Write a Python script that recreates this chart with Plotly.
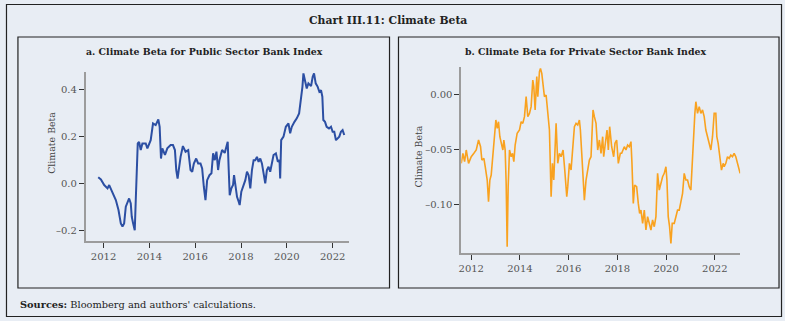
import plotly.graph_objects as go

W, H = 785, 321

# ---- Data (decimal years, climate beta) ----
pub_year = [2011.768, 2011.884, 2012.029, 2012.174, 2012.246, 2012.391, 2012.536, 2012.652, 2012.754, 2012.826,
            2012.899, 2012.971, 2013.043, 2013.116, 2013.188, 2013.232, 2013.290, 2013.362, 2013.406, 2013.449,
            2013.493, 2013.551, 2013.623, 2013.696, 2013.841, 2013.913, 2014.058, 2014.159, 2014.275, 2014.391,
            2014.449, 2014.507, 2014.565, 2014.681, 2014.783, 2014.928, 2015.029, 2015.116, 2015.174, 2015.232,
            2015.290, 2015.362, 2015.464, 2015.580, 2015.696, 2015.797, 2015.870, 2015.942, 2016.043, 2016.130,
            2016.232, 2016.304, 2016.377, 2016.449, 2016.522, 2016.623, 2016.710, 2016.783, 2016.855, 2016.928,
            2017.000, 2017.058, 2017.174, 2017.290, 2017.362, 2017.420, 2017.464, 2017.507, 2017.580, 2017.652,
            2017.696, 2017.754, 2017.826, 2017.899, 2017.942, 2018.014, 2018.087, 2018.188, 2018.261, 2018.333,
            2018.406, 2018.478, 2018.551, 2018.623, 2018.696, 2018.768, 2018.841, 2018.913, 2018.986, 2019.058,
            2019.130, 2019.203, 2019.275, 2019.348, 2019.420, 2019.522, 2019.609, 2019.681, 2019.710, 2019.754,
            2019.855, 2019.957, 2020.072, 2020.145, 2020.217, 2020.333, 2020.435, 2020.536, 2020.609, 2020.681,
            2020.725, 2020.797, 2020.870, 2020.942, 2021.058, 2021.130, 2021.188, 2021.261, 2021.348, 2021.420,
            2021.493, 2021.551, 2021.594, 2021.667, 2021.739, 2021.841, 2021.928, 2022.000, 2022.072, 2022.145,
            2022.217, 2022.290, 2022.362, 2022.435, 2022.507]
pub_beta = [0.026, 0.017, -0.007, -0.021, -0.007, -0.043, -0.071, -0.113, -0.170, -0.184,
            -0.170, -0.099, -0.078, -0.064, -0.085, -0.142, -0.170, -0.199, -0.071, 0.021,
            0.170, 0.177, 0.142, 0.170, 0.170, 0.149, 0.184, 0.255, 0.248, 0.272,
            0.241, 0.106, 0.149, 0.121, 0.149, 0.163, 0.163, 0.142, 0.057, 0.021,
            0.071, 0.113, 0.159, 0.135, 0.142, 0.057, 0.050, 0.085, 0.106, 0.085,
            0.085, 0.064, -0.014, -0.071, 0.014, 0.035, 0.043, 0.128, 0.099, 0.135,
            0.057, 0.099, 0.142, 0.130, 0.156, 0.177, 0.057, -0.050, -0.021, -0.007,
            0.035, -0.007, -0.057, -0.078, -0.092, -0.035, -0.014, 0.014, 0.050, 0.035,
            -0.021, 0.057, 0.099, 0.099, 0.113, 0.092, 0.106, 0.085, 0.043, 0.000,
            0.057, 0.071, 0.050, 0.085, 0.121, 0.128, 0.092, 0.099, 0.021, 0.184,
            0.199, 0.241, 0.255, 0.213, 0.241, 0.262, 0.277, 0.298, 0.348, 0.411,
            0.468, 0.440, 0.404, 0.426, 0.414, 0.454, 0.468, 0.426, 0.411, 0.390,
            0.397, 0.369, 0.270, 0.262, 0.241, 0.234, 0.241, 0.220, 0.220, 0.184,
            0.191, 0.199, 0.220, 0.227, 0.206]

pvt_year = [2011.590, 2011.658, 2011.727, 2011.795, 2011.891, 2012.000, 2012.109, 2012.205, 2012.301, 2012.383,
            2012.437, 2012.519, 2012.574, 2012.656, 2012.710, 2012.765, 2012.820, 2012.888, 2012.956, 2013.011,
            2013.066, 2013.120, 2013.175, 2013.230, 2013.298, 2013.339, 2013.393, 2013.434, 2013.475, 2013.516,
            2013.571, 2013.639, 2013.694, 2013.749, 2013.803, 2013.885, 2013.981, 2014.049, 2014.117, 2014.186,
            2014.254, 2014.322, 2014.391, 2014.459, 2014.527, 2014.568, 2014.623, 2014.691, 2014.732, 2014.801,
            2014.842, 2014.896, 2014.951, 2015.005, 2015.074, 2015.142, 2015.210, 2015.279, 2015.333, 2015.388,
            2015.443, 2015.484, 2015.552, 2015.620, 2015.689, 2015.770, 2015.839, 2015.921, 2015.962, 2016.030,
            2016.098, 2016.167, 2016.235, 2016.303, 2016.372, 2016.440, 2016.481, 2016.536, 2016.590, 2016.645,
            2016.713, 2016.781, 2016.850, 2016.918, 2016.959, 2017.000, 2017.055, 2017.123, 2017.191, 2017.260,
            2017.328, 2017.396, 2017.437, 2017.505, 2017.574, 2017.628, 2017.683, 2017.765, 2017.847, 2017.902,
            2017.970, 2018.038, 2018.120, 2018.175, 2018.243, 2018.284, 2018.352, 2018.421, 2018.489, 2018.557,
            2018.598, 2018.653, 2018.708, 2018.790, 2018.858, 2018.913, 2018.967, 2019.036, 2019.104, 2019.172,
            2019.240, 2019.309, 2019.377, 2019.445, 2019.514, 2019.582, 2019.650, 2019.719, 2019.787, 2019.855,
            2019.923, 2019.992, 2020.033, 2020.087, 2020.142, 2020.197, 2020.251, 2020.333, 2020.402, 2020.470,
            2020.538, 2020.607, 2020.675, 2020.743, 2020.811, 2020.880, 2020.948, 2021.016, 2021.071, 2021.126,
            2021.180, 2021.221, 2021.290, 2021.358, 2021.426, 2021.495, 2021.563, 2021.631, 2021.699, 2021.768,
            2021.836, 2021.904, 2021.973, 2022.041, 2022.082, 2022.137, 2022.205, 2022.273, 2022.342, 2022.383,
            2022.451, 2022.519, 2022.587, 2022.656, 2022.724, 2022.792, 2022.861, 2022.929, 2023.038]
pvt_beta = [-0.0630, -0.0539, -0.0615, -0.0509, -0.0630, -0.0570, -0.0539, -0.0509, -0.0418, -0.0479,
            -0.0600, -0.0585, -0.0661, -0.0782, -0.0979, -0.0782, -0.0736, -0.0570, -0.0388, -0.0236,
            -0.0312, -0.0252, -0.0388, -0.0448, -0.0509, -0.0418, -0.0509, -0.0812, -0.1388, -0.0842,
            -0.0509, -0.0570, -0.0539, -0.0615, -0.0464, -0.0358, -0.0327, -0.0252, -0.0267, -0.0206,
            -0.0024, -0.0206, -0.0176, -0.0115, 0.0127, 0.0067, -0.0145, 0.0158, -0.0024, 0.0203,
            0.0233, 0.0188, 0.0067, -0.0024, -0.0009, -0.0206, -0.0327, -0.0933, -0.0630, -0.0782,
            -0.0388, -0.0267, -0.0630, -0.0539, -0.0570, -0.0509, -0.0691, -0.0933, -0.0842, -0.0630,
            -0.0691, -0.0448, -0.0297, -0.0267, -0.0282, -0.0236, -0.0327, -0.0539, -0.0752, -0.0964,
            -0.0782, -0.0691, -0.0600, -0.0570, -0.0327, -0.0145, -0.0206, -0.0267, -0.0509, -0.0418,
            -0.0539, -0.0388, -0.0570, -0.0448, -0.0327, -0.0509, -0.0297, -0.0479, -0.0570, -0.0448,
            -0.0418, -0.0630, -0.0539, -0.0539, -0.0509, -0.0479, -0.0509, -0.0464, -0.0479, -0.0433,
            -0.0630, -0.0994, -0.0827, -0.0842, -0.0994, -0.1085, -0.1055, -0.1176, -0.1055, -0.1236,
            -0.1115, -0.1176, -0.1236, -0.1145, -0.1206, -0.1115, -0.0721, -0.0873, -0.0812, -0.0752,
            -0.0721, -0.0661, -0.0782, -0.1115, -0.1206, -0.1358, -0.1176, -0.1176, -0.1115, -0.1055,
            -0.1055, -0.0964, -0.0903, -0.0721, -0.0782, -0.0782, -0.0842, -0.0873, -0.0630, -0.0327,
            -0.0176, -0.0070, -0.0176, -0.0115, -0.0176, -0.0145, -0.0206, -0.0327, -0.0388, -0.0448,
            -0.0509, -0.0388, -0.0176, -0.0176, -0.0388, -0.0448, -0.0570, -0.0691, -0.0630, -0.0661,
            -0.0630, -0.0570, -0.0585, -0.0555, -0.0570, -0.0539, -0.0570, -0.0630, -0.0721]

year_ticks = [2012, 2014, 2016, 2018, 2020, 2022]
pub_yticks = [-0.2, 0.0, 0.2, 0.4]
pvt_yticks = [-0.10, -0.05, 0.00]

chart_title = "Chart III.11: Climate Beta"
title_a = "a. Climate Beta for Public Sector Bank Index"
title_b = "b. Climate Beta for Private Sector Bank Index"
y_title = "Climate Beta"
source_text = "<b>Sources:</b> Bloomberg and authors' calculations."

BG = "#e8edf4"
SERIF = "DejaVu Serif"

def px(x):
    return x / W

def py(y):
    return 1 - y / H

fig = go.Figure()
fig.add_trace(go.Scatter(x=pub_year, y=pub_beta, mode="lines",
                         line=dict(color="#2c4fa3", width=2), xaxis="x", yaxis="y",
                         showlegend=False, hoverinfo="skip"))
fig.add_trace(go.Scatter(x=pvt_year, y=pvt_beta, mode="lines",
                         line=dict(color="#f9a21f", width=1.6), xaxis="x2", yaxis="y2",
                         showlegend=False, hoverinfo="skip"))

axis_common = dict(showgrid=False, zeroline=False, showline=True, linecolor="#9c9c9c",
                   linewidth=1.6, ticks="outside", ticklen=5, tickwidth=1, tickcolor="#333",
                   tickfont=dict(family=SERIF, size=10, color="#555"), fixedrange=True)

def fmt(v, nd):
    s = f"{v:.{nd}f}"
    return s.replace("-", "\u2013")

fig.update_layout(
    width=W, height=H, margin=dict(l=0, r=0, t=0, b=0),
    paper_bgcolor=BG, plot_bgcolor=BG,
    xaxis=dict(axis_common, domain=[px(83), px(347)], range=[2011.22, 2022.70],
               tickvals=year_ticks, ticktext=[str(v) for v in year_ticks], anchor="y"),
    yaxis=dict(axis_common, domain=[py(241), py(71.8)], range=[-0.245, 0.475],
               tickvals=pub_yticks, ticktext=[fmt(v, 1) for v in pub_yticks], anchor="x"),
    xaxis2=dict(axis_common, domain=[px(460), px(740)], range=[2011.59, 2023.04],
                tickvals=year_ticks, ticktext=[str(v) for v in year_ticks], anchor="y2"),
    yaxis2=dict(axis_common, domain=[py(253), py(66.5)], range=[-0.1445, 0.025],
                tickvals=pvt_yticks, ticktext=[fmt(v, 2) for v in pvt_yticks], anchor="x2"),
)

border = dict(color="#222", width=1.2)
fig.add_shape(type="rect", xref="paper", yref="paper", x0=px(3.5), x1=px(781.5), y0=py(316.5), y1=py(4.5), line=border)
fig.add_shape(type="rect", xref="paper", yref="paper", x0=px(15), x1=px(388), y0=py(288), y1=py(37), line=border)
fig.add_shape(type="rect", xref="paper", yref="paper", x0=px(397), x1=px(779), y0=py(288), y1=py(37), line=border)

ann = [
    dict(text=f"<b>{chart_title}</b>", x=px(386), y=py(20), font=dict(family=SERIF, size=10.8, color="#222")),
    dict(text=f"<b>{title_a}</b>", x=px(202), y=py(51), font=dict(family=SERIF, size=9.4, color="#222")),
    dict(text=f"<b>{title_b}</b>", x=px(585), y=py(51), font=dict(family=SERIF, size=9.4, color="#222")),
    dict(text=y_title, x=px(49), y=py(143), textangle=-90, font=dict(family=SERIF, size=9.4, color="#444")),
    dict(text=y_title, x=px(417), y=py(156), textangle=-90, font=dict(family=SERIF, size=9.4, color="#444")),
]
for a in ann:
    fig.add_annotation(xref="paper", yref="paper", showarrow=False, xanchor="center", yanchor="middle", **a)
fig.add_annotation(xref="paper", yref="paper", showarrow=False, xanchor="left", yanchor="middle",
                   x=px(15), y=py(304), text=source_text, font=dict(family=SERIF, size=9.8, color="#222"))

fig.write_html("out.html")
